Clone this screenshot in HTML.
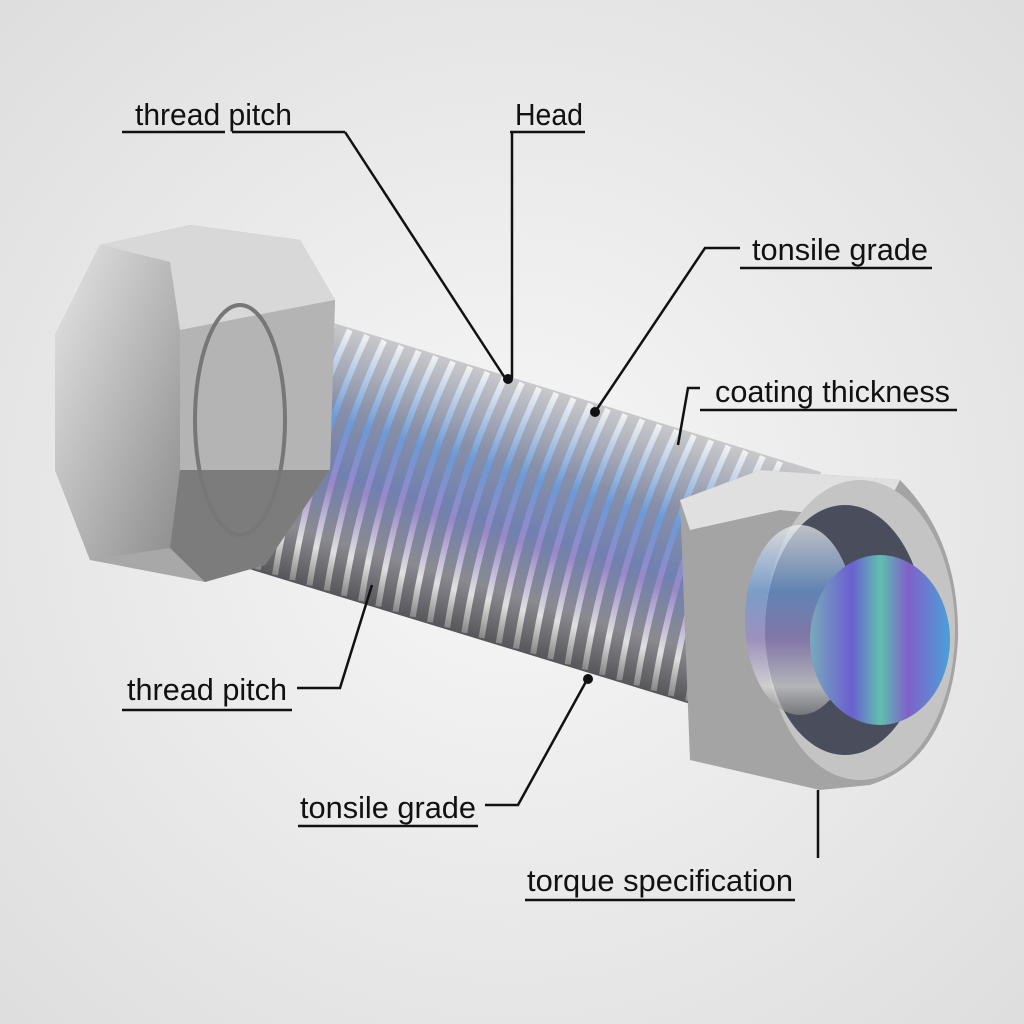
<!DOCTYPE html>
<html><head><style>
html,body{margin:0;padding:0;width:1024px;height:1024px;overflow:hidden}
svg{display:block}
text{font-family:"Liberation Sans Narrow","Liberation Sans",sans-serif;font-size:31px;fill:#111}
</style></head><body>
<svg width="1024" height="1024" viewBox="0 0 1024 1024" xmlns="http://www.w3.org/2000/svg">
<defs>
<radialGradient id="bg" cx="50%" cy="50%" r="70%">
<stop offset="0" stop-color="#f7f7f7"/><stop offset="1" stop-color="#dedede"/>
</radialGradient>
<linearGradient id="shaft" x1="0" y1="0" x2="0" y2="1">
<stop offset="0" stop-color="#c9c9cc"/><stop offset="0.3" stop-color="#8890a8"/>
<stop offset="0.55" stop-color="#7080b0"/><stop offset="0.8" stop-color="#8a8a90"/><stop offset="1" stop-color="#55555a"/>
</linearGradient>
<linearGradient id="thr" x1="0" y1="0" x2="0" y2="1">
<stop offset="0" stop-color="#f2f2f2"/><stop offset="0.35" stop-color="#6a9ad8"/>
<stop offset="0.6" stop-color="#9a88c8"/><stop offset="0.85" stop-color="#e0e0e0"/><stop offset="1" stop-color="#888"/>
</linearGradient>
<linearGradient id="hexF" x1="0" y1="0" x2="1" y2="1">
<stop offset="0" stop-color="#e6e6e6"/><stop offset="1" stop-color="#8c8c8c"/>
</linearGradient>
<linearGradient id="irid" x1="0" y1="0" x2="1" y2="0">
<stop offset="0" stop-color="#7ab"/><stop offset="0.3" stop-color="#6a5fd0"/>
<stop offset="0.5" stop-color="#5fc0b0"/><stop offset="0.7" stop-color="#8060c8"/><stop offset="1" stop-color="#4aa0d8"/>
</linearGradient>
</defs>
<rect width="1024" height="1024" fill="url(#bg)"/>

<!-- shaft -->
<g transform="translate(190,415) rotate(17)">
<rect x="0" y="-130" width="620" height="260" fill="url(#shaft)"/>
<g fill="none" stroke="url(#thr)" stroke-width="6">
<path d="M20,-128 q-18,128 0,256 M38,-128 q-18,128 0,256 M56,-128 q-18,128 0,256 M74,-128 q-18,128 0,256 M92,-128 q-18,128 0,256 M110,-128 q-18,128 0,256 M128,-128 q-18,128 0,256 M146,-128 q-18,128 0,256 M164,-128 q-18,128 0,256 M182,-128 q-18,128 0,256 M200,-128 q-18,128 0,256 M218,-128 q-18,128 0,256 M236,-128 q-18,128 0,256 M254,-128 q-18,128 0,256 M272,-128 q-18,128 0,256 M290,-128 q-18,128 0,256 M308,-128 q-18,128 0,256 M326,-128 q-18,128 0,256 M344,-128 q-18,128 0,256 M362,-128 q-18,128 0,256 M380,-128 q-18,128 0,256 M398,-128 q-18,128 0,256 M416,-128 q-18,128 0,256 M434,-128 q-18,128 0,256 M452,-128 q-18,128 0,256 M470,-128 q-18,128 0,256 M488,-128 q-18,128 0,256 M506,-128 q-18,128 0,256 M524,-128 q-18,128 0,256 M542,-128 q-18,128 0,256 M560,-128 q-18,128 0,256 M578,-128 q-18,128 0,256"/>
</g>
</g>

<!-- hex head -->
<polygon points="55,335 100,245 190,225 300,240 335,300 330,470 265,565 205,582 90,560 55,470" fill="#a8a8a8"/>
<polygon points="55,335 100,245 170,262 180,330 180,470 170,548 90,560 55,470" fill="url(#hexF)"/>
<polygon points="100,245 190,225 300,240 335,300 180,330 170,262" fill="#d8d8d8"/>
<polygon points="180,470 330,470 265,565 205,582 170,548" fill="#7c7c7c"/>
<polygon points="180,330 335,300 330,470 180,470" fill="#b4b4b4"/>
<ellipse cx="240" cy="420" rx="45" ry="115" fill="none" stroke="#777" stroke-width="4"/>

<!-- collar -->
<path d="M680,500 L760,470 L900,480 Q960,540 958,640 Q950,760 870,785 L820,790 L690,760 Z" fill="#a4a4a4"/>
<polygon points="680,500 760,470 900,480 880,520 780,510 690,530" fill="#e0e0e0"/>
<ellipse cx="860" cy="630" rx="95" ry="150" fill="#c4c4c4"/>
<ellipse cx="845" cy="630" rx="80" ry="125" fill="#4a4e5c"/>
<ellipse cx="800" cy="620" rx="55" ry="95" fill="url(#thr)" opacity="0.7"/>
<ellipse cx="880" cy="640" rx="70" ry="85" fill="url(#irid)"/>

<!-- leaders -->
<g stroke="#111" stroke-width="2.5" fill="none">
<line x1="122" y1="132" x2="225" y2="132"/><line x1="232" y1="132" x2="345" y2="132"/>
<polyline points="345,132 505,378"/>
<line x1="510" y1="132" x2="585" y2="132"/><line x1="512" y1="132" x2="512" y2="378"/>
<line x1="740" y1="268" x2="932" y2="268"/><polyline points="740,248 705,248 595,412"/>
<line x1="700" y1="410" x2="957" y2="410"/><polyline points="700,388 688,388 678,445"/>
<line x1="122" y1="710" x2="292" y2="710"/><polyline points="297,688 340,688 372,585"/>
<line x1="298" y1="826" x2="478" y2="826"/><polyline points="485,805 518,805 588,678"/>
<line x1="525" y1="900" x2="795" y2="900"/><line x1="818" y1="790" x2="818" y2="858"/>
</g>
<g fill="#111"><circle cx="508" cy="379" r="5"/><circle cx="595" cy="412" r="5"/><circle cx="588" cy="679" r="5"/></g>

<text x="135" y="125" textLength="157" lengthAdjust="spacingAndGlyphs">thread pitch</text>
<text x="515" y="125" textLength="68" lengthAdjust="spacingAndGlyphs">Head</text>
<text x="752" y="260" textLength="176" lengthAdjust="spacingAndGlyphs">tonsile grade</text>
<text x="715" y="402" textLength="235" lengthAdjust="spacingAndGlyphs">coating thickness</text>
<text x="127" y="700" textLength="160" lengthAdjust="spacingAndGlyphs">thread pitch</text>
<text x="300" y="818" textLength="176" lengthAdjust="spacingAndGlyphs">tonsile grade</text>
<text x="527" y="891" textLength="266" lengthAdjust="spacingAndGlyphs">torque specification</text>
</svg>
</body></html>
